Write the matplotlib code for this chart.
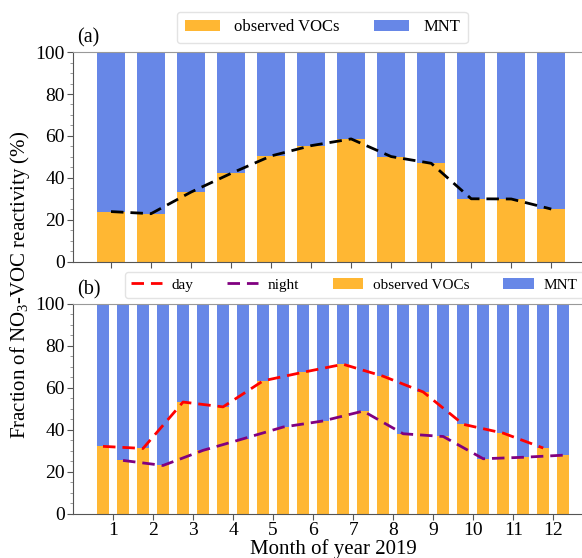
import numpy as np
import matplotlib
matplotlib.use('Agg')
import matplotlib.pyplot as plt
from matplotlib.ticker import MultipleLocator

plt.rcParams['font.family'] = ['Liberation Serif', 'DejaVu Serif']
plt.rcParams['mathtext.fontset'] = 'custom'
plt.rcParams['mathtext.rm'] = 'Liberation Serif'

#=============== data ===============
months = np.arange(1, 13)
# panel (a): fraction of observed VOCs (%), rest is MNT
voc_all = [24, 23, 33.3, 42.2, 50.5, 55.4, 58.6, 50.2, 47, 30.1, 30, 25.2]
# panel (b): day / night fractions of observed VOCs (%)
voc_day = [32.2, 31.2, 53.3, 51, 63.4, 67.5, 71.3, 65.6, 58.1, 42.7, 38.5, 31.4]
voc_night = [25.5, 23.1, 30.3, 35.8, 41.4, 44.3, 49, 38.2, 36.9, 26.3, 27, 28]

c_voc = 'orange'
c_mnt = 'royalblue'
ALPHA = 0.8

#=============== figure ===============
fig = plt.figure(figsize=(5.82, 5.58), dpi=100)
ax1 = fig.add_axes([0.1254, 0.5305, 0.894, 0.3763])
ax2 = fig.add_axes([0.1254, 0.0789, 0.894, 0.3763])

def style_axis(ax):
    ax.set_ylim(0, 100)
    ax.yaxis.set_major_locator(MultipleLocator(20))
    ax.yaxis.set_minor_locator(MultipleLocator(5))
    ax.tick_params(axis='both', labelsize=14, colors='#555555',
                   labelcolor='black', length=4, pad=2)
    ax.tick_params(axis='y', which='minor', length=2, colors='#888888')
    for s in ['left', 'bottom']:
        ax.spines[s].set_color('#555555')
    for s in ['top', 'right']:
        ax.spines[s].set_color('#999999')

# ---- (a) ----
voc_all = np.array(voc_all)
ax1.bar(months, voc_all, width=0.7, color=c_voc, alpha=ALPHA, label='observed VOCs')
ax1.bar(months, 100 - voc_all, bottom=voc_all, width=0.7, color=c_mnt,
        alpha=ALPHA, label='MNT')
ax1.plot(months, voc_all, ls='--', color='black', lw=2, dashes=(4.5, 2.5))
ax1.set_xlim(0.05, 13.05)
ax1.set_xticks(months)
ax1.set_xticklabels([])
style_axis(ax1)
ax1.legend(loc='lower left', bbox_to_anchor=(0.2, 1.043), ncol=2,
           fontsize=12, frameon=True, edgecolor='#dddddd',
           handlelength=2.1, handletextpad=0.85, columnspacing=2.1,
           borderpad=0.45, borderaxespad=0)
ax1.text(0.03, 1.02, '(a)', transform=ax1.transAxes, fontsize=14.5,
         ha='center', va='bottom')

# ---- (b) ----
voc_day = np.array(voc_day)
voc_night = np.array(voc_night)
xd = months - 0.25
xn = months + 0.25
ax2.plot(xd, voc_day, ls='--', color='red', lw=2, dashes=(4.5, 2.5), label='day')
ax2.plot(xn, voc_night, ls='--', color='purple', lw=2, dashes=(4.5, 2.5),
         label='night')
ax2.bar(xd, voc_day, width=0.3, color=c_voc, alpha=ALPHA, label='observed VOCs')
ax2.bar(xd, 100 - voc_day, bottom=voc_day, width=0.3, color=c_mnt,
        alpha=ALPHA, label='MNT')
ax2.bar(xn, voc_night, width=0.3, color=c_voc, alpha=ALPHA)
ax2.bar(xn, 100 - voc_night, bottom=voc_night, width=0.3, color=c_mnt,
        alpha=ALPHA)
ax2.set_xlim(0, 13)
ax2.set_xticks(months)
style_axis(ax2)
ax2.set_xlabel('Month of year 2019', fontsize=15, labelpad=0)
ax2.legend(loc='lower left', bbox_to_anchor=(0.1, 1.029), ncol=4,
           fontsize=11, frameon=True, edgecolor='#dddddd',
           handlelength=2.0, handletextpad=0.65, columnspacing=2.2,
           borderpad=0.4, borderaxespad=0)
ax2.text(0.03, 1.02, '(b)', transform=ax2.transAxes, fontsize=14.5,
         ha='center', va='bottom')

fig.text(0.035, 0.49, 'Fraction of NO$_3$-VOC reactivity (%)', rotation=90,
         fontsize=15, ha='center', va='center')

fig.savefig('out.png', dpi=100)
